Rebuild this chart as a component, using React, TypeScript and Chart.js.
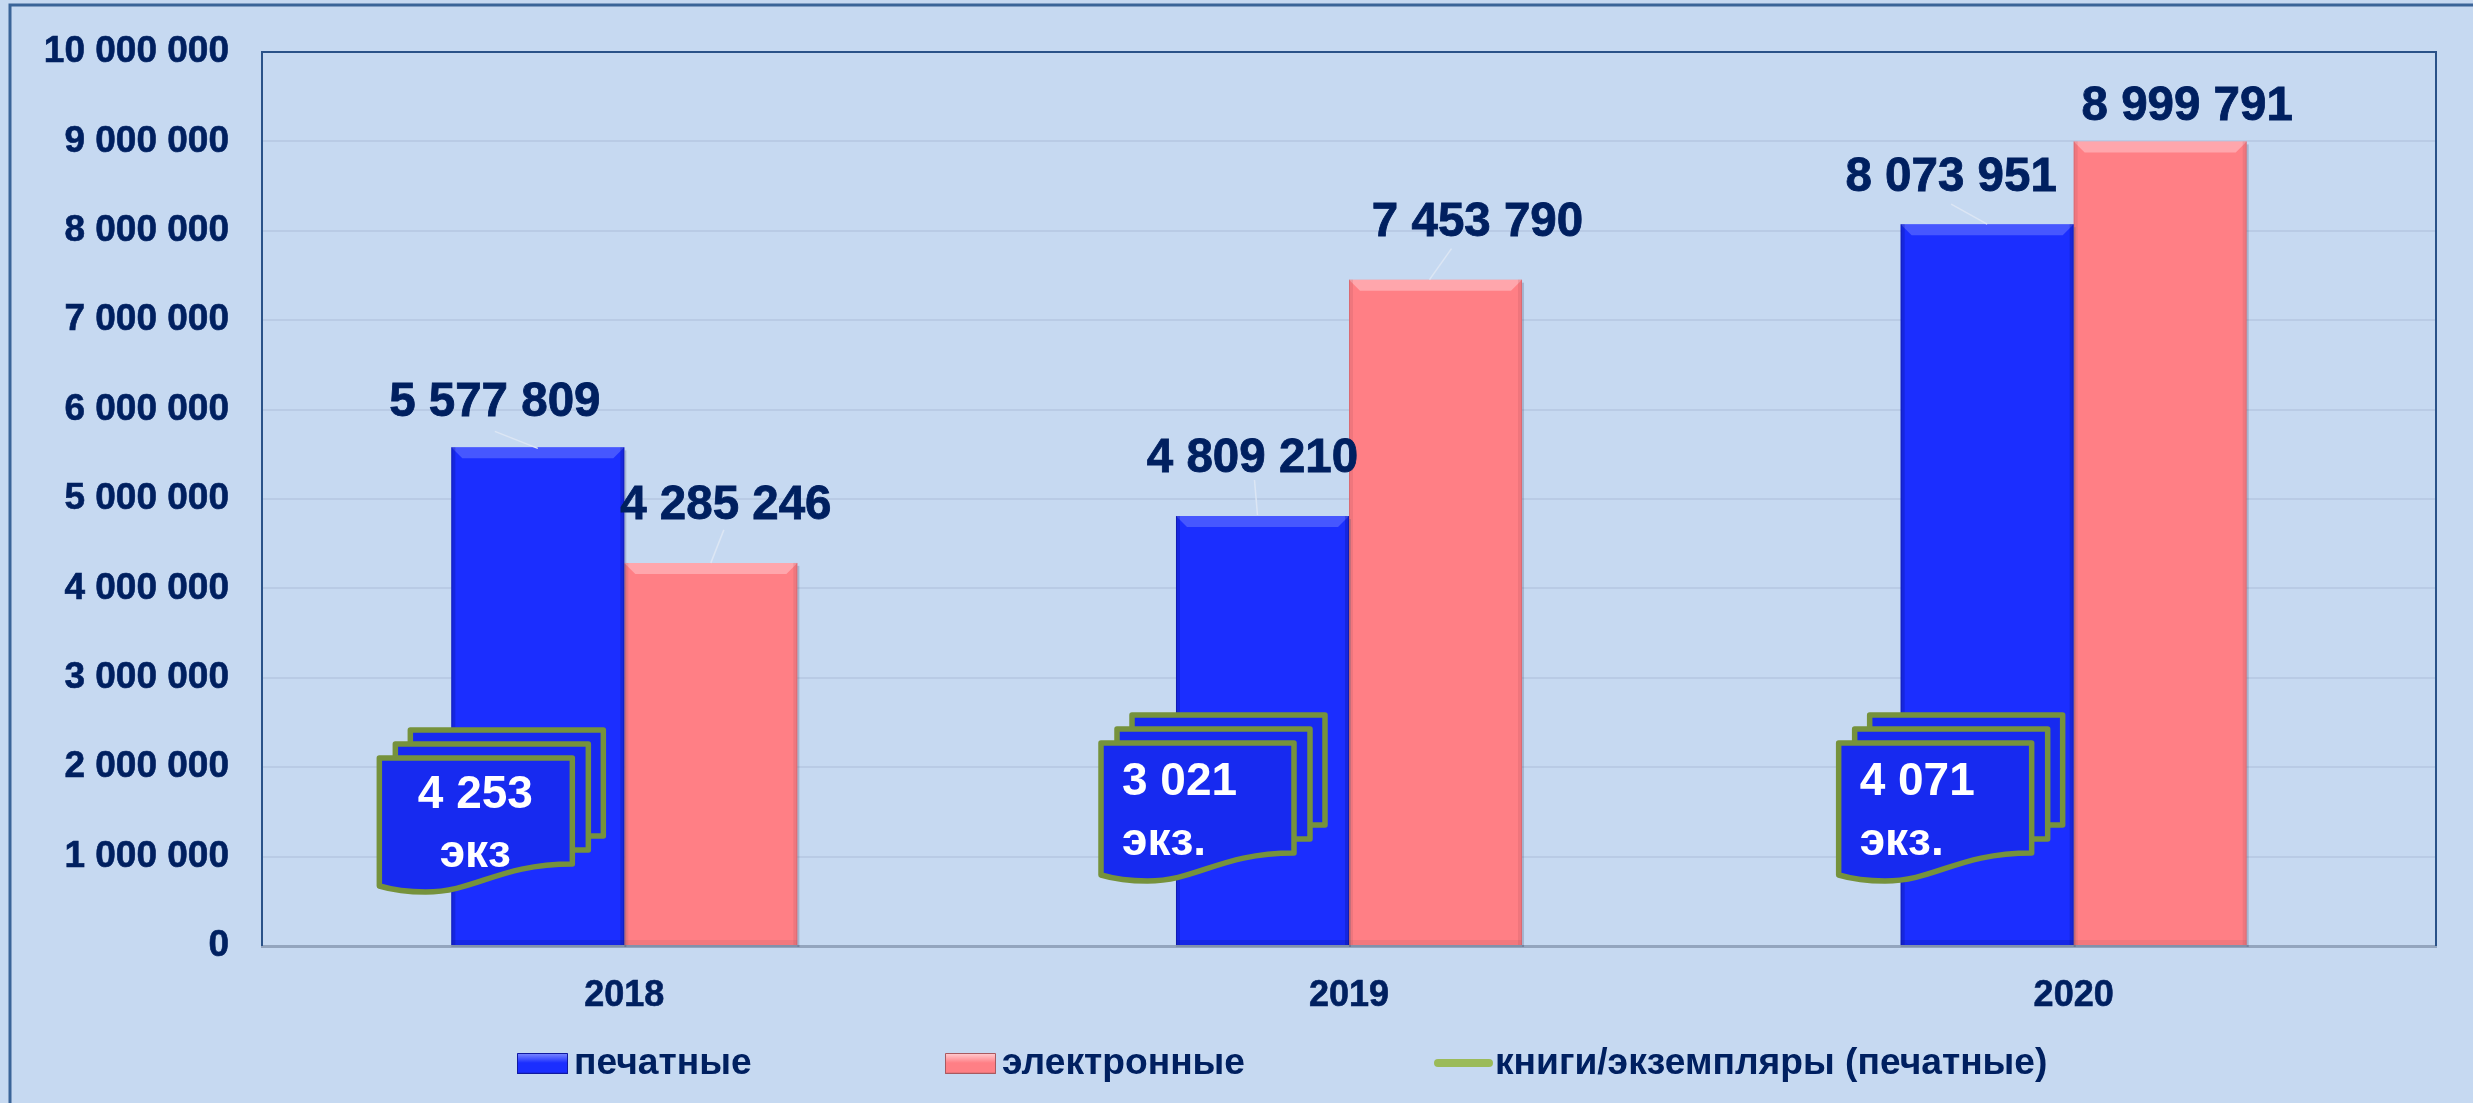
import React, { useEffect, useRef } from "react";
import { Chart, registerables } from "chart.js";

Chart.register(...registerables);

const years = ["2018", "2019", "2020"];
const printed = [5577809, 4809210, 8073951];
const electronic = [4285246, 7453790, 8999791];
const copies = [4253, 3021, 4071];
const copySuffix = ["экз", "экз.", "экз."];
const seriesNames = ["печатные", "электронные", "книги/экземпляры (печатные)"];

const W = 2473;
const H = 1103;
const PLOT = { left: 262, top: 52, right: 2436, bottom: 946 };
const NAVY = "#002060";
const BG = "#C6D9F1";
const BLUE = "#1B2EFF";
const RED = "#FF7F85";
const GREEN = "#76923C";
const FONT = '"Liberation Sans", Arial, sans-serif';

const fmt = (v: number) => String(v).replace(/\B(?=(\d{3})+(?!\d))/g, " ");

// label layout: offset of the label centre from the bar's top-centre, and the leader line
const labelLayout = [
  [
    { dx: -43, dy: -44, lead: [-43, -16, 0, 1] },
    { dx: 15, dy: -57, lead: [13, -33, 0, 0] },
  ],
  [
    { dx: -10, dy: -57, lead: [-8, -36, -5, -1] },
    { dx: 42, dy: -57, lead: [16, -31, -6, 0] },
  ],
  [
    { dx: -36, dy: -46, lead: [-36, -20, 0, 0] },
    { dx: 27, dy: -35, lead: null },
  ],
];

const sheetLayout = [
  { dx: -245, top: 758, h: 106, align: "center", textX: 96, y1: 37, y2: 96 },
  { dx: -248, top: 743, h: 110, align: "left", textX: 21, y1: 39, y2: 99 },
  { dx: -235, top: 743, h: 110, align: "left", textX: 21, y1: 39, y2: 99 },
];

function sheetPath(ctx: CanvasRenderingContext2D, x: number, y: number, w: number, h: number, wave: boolean) {
  ctx.beginPath();
  ctx.moveTo(x, y);
  ctx.lineTo(x + w, y);
  ctx.lineTo(x + w, y + h);
  if (wave) {
    ctx.bezierCurveTo(x + w * 0.62, y + h, x + w * 0.5, y + h + 28, x + w * 0.24, y + h + 28);
    ctx.bezierCurveTo(x + w * 0.15, y + h + 28, x + w * 0.07, y + h + 26, x, y + h + 22);
  } else {
    ctx.lineTo(x, y + h);
  }
  ctx.closePath();
}

const decorations = {
  id: "decorations",
  beforeDraw(chart: any) {
    const { ctx } = chart;
    ctx.save();
    ctx.fillStyle = BG;
    ctx.fillRect(0, 0, W, H);
    ctx.strokeStyle = "#3A6498";
    ctx.lineWidth = 3;
    ctx.beginPath();
    ctx.moveTo(10, H);
    ctx.lineTo(10, 5);
    ctx.lineTo(W, 5);
    ctx.stroke();
    ctx.restore();
  },
  afterDatasetsDraw(chart: any) {
    const { ctx, chartArea: a } = chart;
    ctx.save();
    // plot border
    ctx.strokeStyle = "#2A5288";
    ctx.lineWidth = 2;
    ctx.beginPath();
    ctx.moveTo(a.left, a.bottom);
    ctx.lineTo(a.left, a.top);
    ctx.lineTo(a.right, a.top);
    ctx.lineTo(a.right, a.bottom);
    ctx.stroke();

    // bevel on bars
    [0, 1].forEach((ds) => {
      const dark = ds === 0 ? "rgba(10,15,120,0.55)" : "rgba(150,70,80,0.35)";
      const light = ds === 0 ? "rgba(130,145,255,0.42)" : "rgba(255,215,220,0.45)";
      chart.getDatasetMeta(ds).data.forEach((el: any) => {
        const l = el.x - el.width / 2;
        const r = el.x + el.width / 2;
        const t = el.y;
        const b = el.base;
        const s = 11;
        ctx.fillStyle = "rgba(90,100,130,0.3)";
        ctx.fillRect(r, t + 3, 2, b - t - 1);
        ctx.fillRect(l, b, r - l + 2, 2);
        ctx.fillStyle = light;
        ctx.beginPath();
        ctx.moveTo(l, t);
        ctx.lineTo(r, t);
        ctx.lineTo(r - s, t + s);
        ctx.lineTo(l + s, t + s);
        ctx.closePath();
        ctx.fill();
        ctx.fillStyle = dark;
        ctx.fillRect(l, t, 1, b - t);
        ctx.fillRect(r - 1, t, 1, b - t);
        ctx.globalAlpha = 0.45;
        ctx.fillRect(l + 1, t, 3, b - t);
        ctx.fillRect(r - 4, t, 3, b - t);
        ctx.globalAlpha = 0.35;
        ctx.fillRect(l, b - 5, r - l, 5);
        ctx.globalAlpha = 1;
      });
    });

    // value labels with leader lines
    ctx.textAlign = "center";
    ctx.textBaseline = "middle";
    [0, 1].forEach((ds) => {
      chart.getDatasetMeta(ds).data.forEach((el: any, i: number) => {
        const spec = labelLayout[i][ds];
        if (spec.lead) {
          ctx.strokeStyle = "#DCE6F4";
          ctx.lineWidth = 1.5;
          ctx.beginPath();
          ctx.moveTo(el.x + spec.lead[0], el.y + spec.lead[1]);
          ctx.lineTo(el.x + spec.lead[2], el.y + spec.lead[3]);
          ctx.stroke();
        }
        ctx.fillStyle = NAVY;
        ctx.strokeStyle = NAVY;
        ctx.lineWidth = 0.8;
        ctx.font = `bold 47.5px ${FONT}`;
        const txt = fmt(chart.data.datasets[ds].data[i]);
        ctx.fillText(txt, el.x + spec.dx, el.y + spec.dy);
        ctx.strokeText(txt, el.x + spec.dx, el.y + spec.dy);
      });
    });

    // sheet-stack callouts
    copies.forEach((v, i) => {
      const spec = sheetLayout[i];
      const cx = chart.scales.x.getPixelForValue(i);
      const x = cx + spec.dx;
      const y = spec.top;
      const w = 193;
      ctx.lineWidth = 5.5;
      ctx.lineJoin = "round";
      ctx.strokeStyle = GREEN;
      ctx.fillStyle = "#172AF0";
      sheetPath(ctx, x + 31, y - 28, w, spec.h, false);
      ctx.fill();
      ctx.stroke();
      sheetPath(ctx, x + 16, y - 14, w, spec.h, false);
      ctx.fill();
      ctx.stroke();
      sheetPath(ctx, x, y, w, spec.h, true);
      ctx.fill();
      ctx.stroke();
      ctx.fillStyle = "#FFFFFF";
      ctx.textAlign = spec.align;
      ctx.textBaseline = "middle";
      ctx.font = `bold 46px ${FONT}`;
      ctx.fillText(fmt(v), x + spec.textX, y + spec.y1);
      ctx.fillText(copySuffix[i], x + spec.textX, y + spec.y2);
    });

    // legend
    const legendY = 1064;
    ctx.textAlign = "left";
    ctx.textBaseline = "middle";
    ctx.font = `bold 37.2px ${FONT}`;
    ctx.fillStyle = NAVY;
    const items = [
      { x: 517, tx: 574, fill: BLUE, top: "#7F8CFF", dark: "#1019A0" },
      { x: 945, tx: 1002, fill: RED, top: "#FFD0D4", dark: "#A85A60" },
    ];
    items.forEach((it, i) => {
      const grad = ctx.createLinearGradient(0, legendY - 11, 0, legendY + 11);
      grad.addColorStop(0, it.top);
      grad.addColorStop(0.45, it.fill);
      grad.addColorStop(0.85, it.fill);
      grad.addColorStop(1, it.dark);
      ctx.fillStyle = grad;
      ctx.fillRect(it.x, legendY - 11, 51, 21);
      ctx.strokeStyle = it.dark;
      ctx.lineWidth = 1;
      ctx.strokeRect(it.x + 0.5, legendY - 10.5, 50, 20);
      ctx.fillStyle = NAVY;
      ctx.fillText(chart.data.datasets[i].label, it.tx, legendY);
    });
    ctx.strokeStyle = "#9BBB59";
    ctx.lineWidth = 8;
    ctx.lineCap = "round";
    ctx.beginPath();
    ctx.moveTo(1438, legendY - 1);
    ctx.lineTo(1489, legendY - 1);
    ctx.stroke();
    ctx.fillText(chart.data.datasets[2].label, 1495, legendY);
    ctx.restore();
  },
};

export default function App() {
  const ref = useRef<HTMLCanvasElement>(null);
  useEffect(() => {
    if (!ref.current) return;
    const chart = new Chart(ref.current, {
      type: "bar",
      data: {
        labels: years,
        datasets: [
          { label: seriesNames[0], data: printed, backgroundColor: BLUE, order: 2 },
          { label: seriesNames[1], data: electronic, backgroundColor: RED, order: 2 },
          {
            type: "line",
            label: seriesNames[2],
            data: copies,
            borderColor: "#9BBB59",
            showLine: false,
            pointRadius: 0,
            yAxisID: "yCopies",
            order: 1,
          },
        ],
      } as any,
      plugins: [decorations],
      options: {
        responsive: false,
        animation: false,
        layout: { padding: { top: PLOT.top, right: W - PLOT.right, left: 0, bottom: 0 } },
        datasets: { bar: { categoryPercentage: 0.4775, barPercentage: 1 } },
        plugins: { legend: { display: false }, tooltip: { enabled: false }, title: { display: false } },
        scales: {
          x: {
            afterFit: (s: any) => {
              s.height = H - PLOT.bottom;
              s.paddingLeft = 0;
              s.paddingRight = 0;
            },
            grid: { display: false, drawTicks: false },
            border: { color: "#93A5BE", width: 3 },
            ticks: {
              padding: 28,
              color: NAVY,
              textStrokeColor: NAVY,
              textStrokeWidth: 0.6,
              font: { family: FONT, weight: "bold", size: 36 },
            },
          },
          y: {
            min: 0,
            max: 10000000,
            afterFit: (s: any) => {
              s.width = PLOT.left;
              s.paddingTop = 0;
              s.paddingBottom = 0;
            },
            grid: { color: "#B9CBE5", lineWidth: 2, drawTicks: false },
            border: { display: false },
            ticks: {
              stepSize: 1000000,
              autoSkip: false,
              padding: 33,
              color: NAVY,
              textStrokeColor: NAVY,
              textStrokeWidth: 0.6,
              font: { family: FONT, weight: "bold", size: 37 },
              callback: (v: any) => fmt(Number(v)),
            },
          },
          yCopies: { display: false, min: 0, max: 10000000 },
        },
      } as any,
    });
    return () => chart.destroy();
  }, []);
  return (
    <div style={{ position: "absolute", left: 0, top: 0, width: W, height: H }}>
      <canvas ref={ref} width={W} height={H} style={{ display: "block", width: W, height: H }} />
    </div>
  );
}
